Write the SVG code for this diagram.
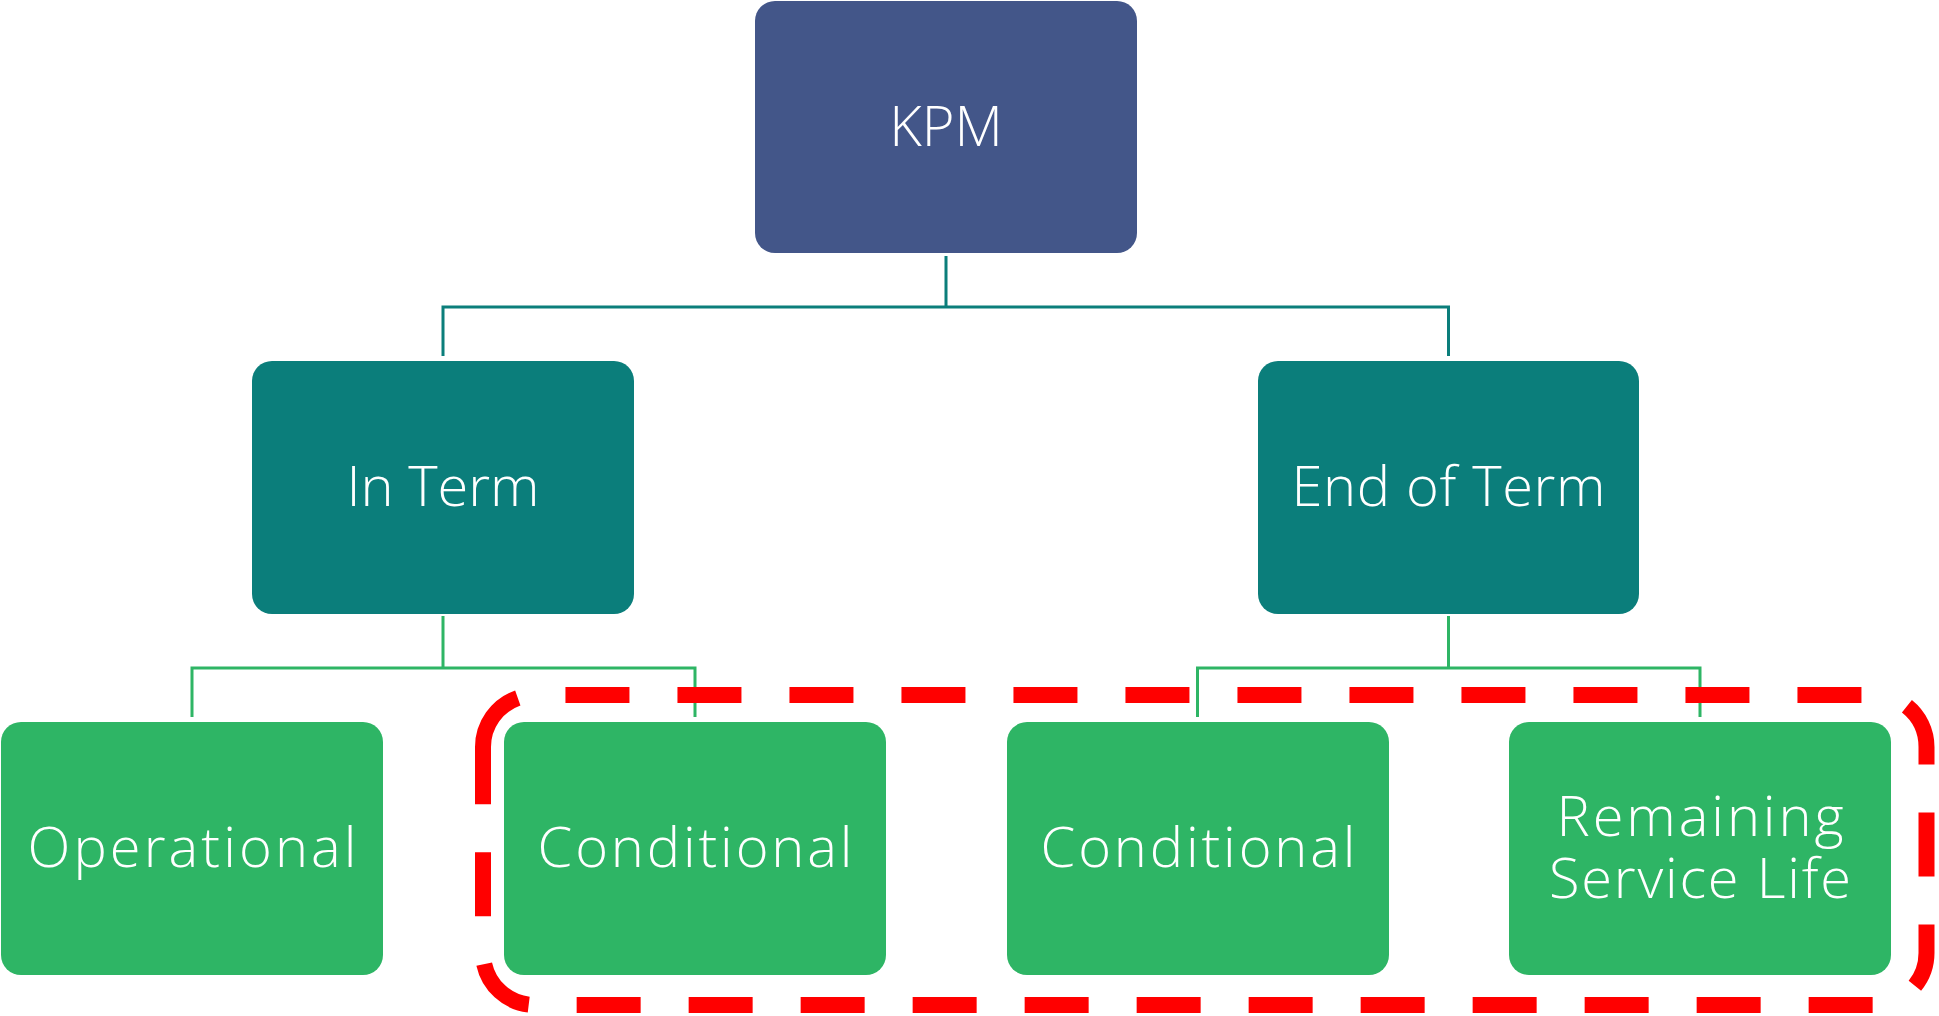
<svg xmlns="http://www.w3.org/2000/svg" width="1939" height="1016" viewBox="0 0 1939 1016">
  <style>
    .box-top { fill: #435689; }
    .box-mid { fill: #0b7e7b; }
    .box-leaf { fill: #2eb565; }
    .lbl { fill: #ffffff; font-family: "Open Sans", "Liberation Sans", sans-serif; font-weight: 300; font-size: 56px; text-anchor: middle; }
    .link-teal { stroke: #0b7e7b; stroke-width: 3; fill: none; }
    .link-green { stroke: #2eb565; stroke-width: 3; fill: none; }
    .highlight { stroke: #ff0000; stroke-width: 16; fill: none; stroke-dasharray: 64 48; }
  </style>

  <!-- connectors -->
  <g id="connectors">
    <path class="link-teal" d="M946 256 V307 M443 356 V307 H1448.5 V356"/>
    <path class="link-green" d="M443 616 V668 M192 717 V668 H695 V717"/>
    <path class="link-green" d="M1448.5 616 V668 M1197.5 717 V668 H1700 V717"/>
  </g>

  <g id="node-kpm">
    <rect class="box-top" x="755" y="1" width="382" height="252" rx="20"/>
    <text class="lbl" x="946" y="146">KPM</text>
  </g>

  <g id="node-in-term">
    <rect class="box-mid" x="252" y="361" width="382" height="253" rx="20"/>
    <text class="lbl" x="443" y="506">In Term</text>
  </g>

  <g id="node-end-of-term">
    <rect class="box-mid" x="1258" y="361" width="381" height="253" rx="20"/>
    <text class="lbl" x="1448.5" y="506" textLength="314" lengthAdjust="spacing">End of Term</text>
  </g>

  <g id="node-operational">
    <rect class="box-leaf" x="1" y="722" width="382" height="253" rx="20"/>
    <text class="lbl" x="192" y="867" textLength="329" lengthAdjust="spacing">Operational</text>
  </g>

  <g id="node-conditional-in">
    <rect class="box-leaf" x="504" y="722" width="382" height="253" rx="20"/>
    <text class="lbl" x="695" y="867" textLength="315" lengthAdjust="spacing">Conditional</text>
  </g>

  <g id="node-conditional-end">
    <rect class="box-leaf" x="1007" y="722" width="382" height="253" rx="20"/>
    <text class="lbl" x="1198" y="867" textLength="315" lengthAdjust="spacing">Conditional</text>
  </g>

  <g id="node-remaining">
    <rect class="box-leaf" x="1509" y="722" width="382" height="253" rx="20"/>
    <text class="lbl"><tspan x="1700" y="836" textLength="287" lengthAdjust="spacing">Remaining</tspan><tspan x="1700" y="898" textLength="302" lengthAdjust="spacing">Service Life</tspan></text>
  </g>

  <!-- dashed outline around the condition-related measures -->
  <g id="highlight">
    <path class="highlight" d="M483 747 A52 52 0 0 1 535 695 H1874.5 A52 52 0 0 1 1926.5 747 V953 A52 52 0 0 1 1874.5 1005 H535 A52 52 0 0 1 483 953 Z"/>
  </g>
</svg>
